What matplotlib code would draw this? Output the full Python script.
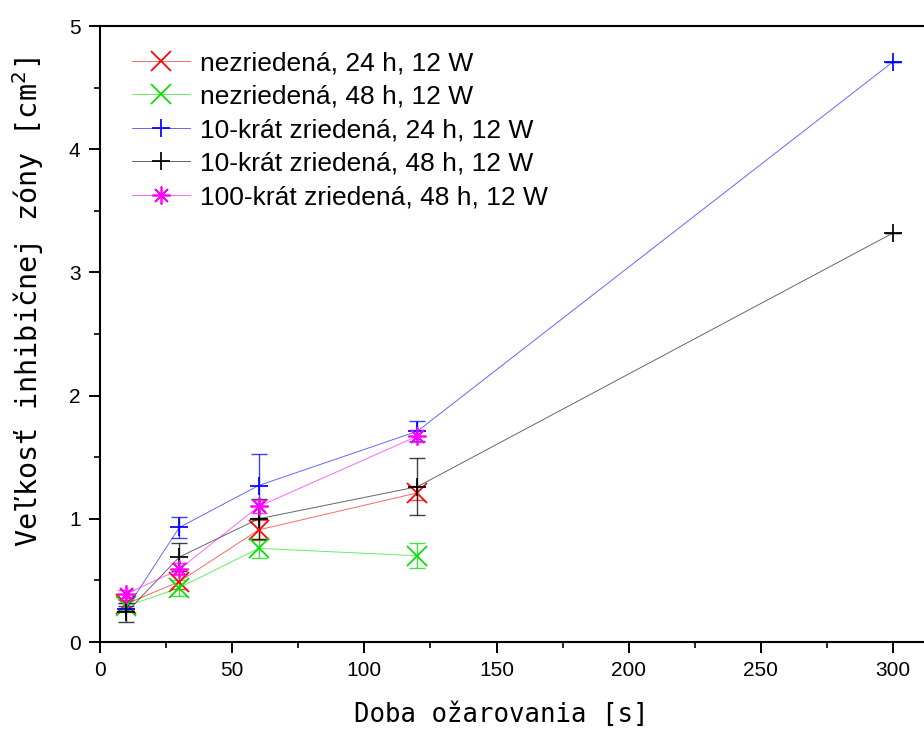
import matplotlib
matplotlib.use("Agg")
import matplotlib.pyplot as plt
from matplotlib.colors import to_rgba
from matplotlib.ticker import MultipleLocator

# ---- data ----
x4 = [10, 30, 60, 120]
x5 = [10, 30, 60, 120, 300]

red_y = [0.31, 0.49, 0.91, 1.21]
red_err = [0.03, 0.06, 0.08, 0.06]
green_y = [0.29, 0.44, 0.76, 0.70]
green_err = [0.03, 0.065, 0.08, 0.10]
blue_y = [0.27, 0.93, 1.27, 1.71, 4.71]
blue_err = [0.02, 0.085, 0.26, 0.08, 0.0]
black_y = [0.24, 0.69, 1.00, 1.26, 3.32]
black_err = [0.075, 0.11, 0.16, 0.23, 0.0]
mag_y = [0.39, 0.59, 1.10, 1.67]
mag_err = [0.03, 0.05, 0.05, 0.05]

labels = ["nezriedená, 24 h, 12 W",
          "nezriedená, 48 h, 12 W",
          "10-krát zriedená, 24 h, 12 W",
          "10-krát zriedená, 48 h, 12 W",
          "100-krát zriedená, 48 h, 12 W"]

x_label = "Doba ožarovania [s]"
y_label = "Veľkosť inhibičnej zóny [cm$^2$]"

series = [
    (x4, red_y, red_err, "#ff0000", "x", 14),
    (x4, green_y, green_err, "#00e000", "x", 14),
    (x5, blue_y, blue_err, "#0000ff", "+", 13),
    (x5, black_y, black_err, "#000000", "+", 13),
    (x4, mag_y, mag_err, "#ff00ff", (8, 2, 0), 13),
]

fig = plt.figure(figsize=(9.24, 7.31), dpi=100)
ax = fig.add_axes([100 / 924, 89 / 731, 824 / 924, 616 / 731])

tick_font = ["Liberation Sans", "DejaVu Sans"]
mono_font = ["DejaVu Sans Mono", "DejaVu Sans"]

handles = []
for (xs, ys, es, col, mk, ms), lab in zip(series, labels):
    ax.errorbar(xs, ys, yerr=es, fmt="none", ecolor=col, elinewidth=1.0,
                capsize=5.5, capthick=1.0, alpha=0.75, zorder=2)
    h, = ax.plot(xs, ys, color=to_rgba(col, 0.6), lw=0.7, marker=mk,
                 markersize=ms, markeredgewidth=1.25,
                 markeredgecolor=col, markerfacecolor=col,
                 label=lab, zorder=3)
    handles.append(h)

ax.set_xlim(0, 311.7)
ax.set_ylim(0, 5)
ax.xaxis.set_major_locator(MultipleLocator(50))
ax.xaxis.set_minor_locator(MultipleLocator(25))
ax.yaxis.set_major_locator(MultipleLocator(1))
ax.yaxis.set_minor_locator(MultipleLocator(0.5))

for s in ["left", "bottom", "top"]:
    ax.spines[s].set_linewidth(1.5)
ax.spines["right"].set_visible(False)

ax.tick_params(which="major", direction="out", length=8, width=1.4,
               labelsize=15, pad=6)
ax.tick_params(which="minor", direction="out", length=4.5, width=1.2)
ax.tick_params(axis="y", which="both", right=False)
ax.tick_params(axis="x", which="both", top=False)
for t in ax.get_xticklabels() + ax.get_yticklabels():
    t.set_family(tick_font)

ax.set_xlabel(x_label, fontsize=18.5, family=mono_font)
ax.set_ylabel(y_label, fontsize=20.5, family=mono_font)
ax.xaxis.set_label_coords(0.487, -0.097)
ax.yaxis.set_label_coords(-0.066, 0.552)

leg = ax.legend(handles=handles, loc="upper left", bbox_to_anchor=(0.02, 0.985),
                frameon=False, prop={"family": tick_font, "size": 19},
                handlelength=2.2, handletextpad=0.38, labelspacing=0.36,
                borderaxespad=0.2)

fig.savefig("out.png", dpi=100)
